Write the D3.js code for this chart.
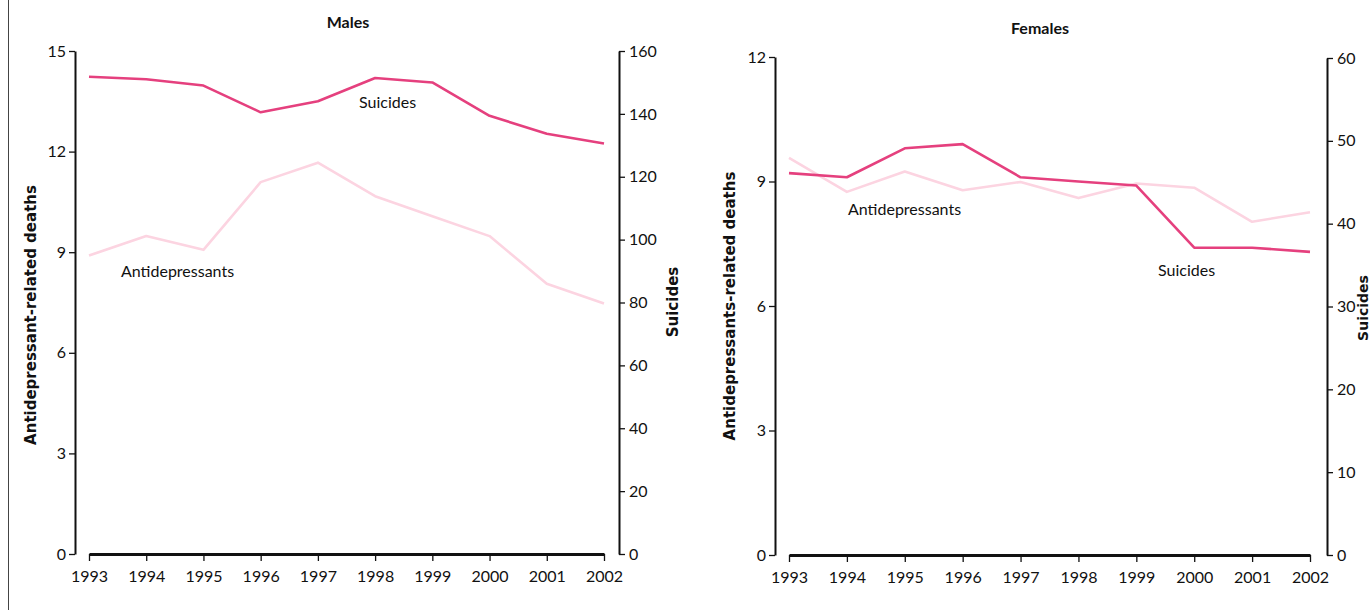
<!DOCTYPE html>
<html>
<head>
<meta charset="utf-8">
<script src="https://cdn.jsdelivr.net/npm/d3@7"></script>
<style>
  html, body { margin: 0; padding: 0; background: #fff; }
  svg { display: block; }
  .tick text { font-family: Lato, "Open Sans", sans-serif; font-size: 16px; fill: #111; }
  .axis path, .axis line { stroke: #111; }
</style>
</head>
<body>
<svg id="chart" width="1372" height="610"></svg>
<script>
// Years on the horizontal axis
const years = [1993, 1994, 1995, 1996, 1997, 1998, 1999, 2000, 2001, 2002];

// Males: antidepressant-related deaths (left axis) and suicides (right axis)
const maleAntidepressants = [8.9, 9.48, 9.07, 11.09, 11.67, 10.67, 10.07, 9.48, 8.06, 7.47];
const maleSuicides = [151.8, 151, 149, 140.5, 144, 151.4, 150, 139.4, 133.7, 130.6];

// Females: antidepressant-related deaths (left axis) and suicides (right axis)
const femaleAntidepressants = [9.57, 8.75, 9.24, 8.79, 8.99, 8.6, 8.95, 8.85, 8.03, 8.26];
const femaleSuicides = [46.1, 45.6, 49.1, 49.6, 45.6, 45.1, 44.6, 37.1, 37.1, 36.6];

// Axis tick values
const maleLeftTicks = [0, 3, 6, 9, 12, 15];
const maleRightTicks = [0, 20, 40, 60, 80, 100, 120, 140, 160];
const femaleLeftTicks = [0, 3, 6, 9, 12];
const femaleRightTicks = [0, 10, 20, 30, 40, 50, 60];

const suicideColor = "#e5407e";
const antiColor = "#fcd4e1";
const labelFont = 'Lato, "Open Sans", sans-serif';
const titleFont = '"DejaVu Sans", sans-serif';

const svg = d3.select("#chart");

// thin frame line on the left edge
svg.append("line")
  .attr("x1", 8.5).attr("x2", 8.5).attr("y1", 0).attr("y2", 610)
  .attr("stroke", "#444").attr("stroke-width", 1);

function panel(cfg) {
  const g = svg.append("g");
  const x = d3.scaleLinear().domain([years[0], years[years.length - 1]]).range(cfg.xRange);
  const yL = d3.scaleLinear().domain(cfg.leftDomain).range(cfg.yRangeL);
  const yR = d3.scaleLinear().domain(cfg.rightDomain).range(cfg.yRangeR);

  // left axis
  const aL = g.append("g").attr("class", "axis")
    .attr("transform", `translate(${cfg.leftX},0)`)
    .call(d3.axisLeft(yL).tickValues(cfg.leftTicks).tickSize(6).tickSizeOuter(0).tickPadding(3).tickFormat(d3.format("d")));
  aL.select(".domain").attr("stroke-width", 2);
  aL.selectAll(".tick line").attr("stroke-width", 1.3);

  // right axis
  const aR = g.append("g").attr("class", "axis")
    .attr("transform", `translate(${cfg.rightX},0)`)
    .call(d3.axisRight(yR).tickValues(cfg.rightTicks).tickSize(6).tickSizeOuter(0).tickPadding(4).tickFormat(d3.format("d")));
  aR.select(".domain").attr("stroke-width", 2);
  aR.selectAll(".tick line").attr("stroke-width", 1.3);

  // bottom axis
  const aB = g.append("g").attr("class", "axis")
    .attr("transform", `translate(0,${cfg.baseY})`)
    .call(d3.axisBottom(x).tickValues(years).tickSize(7).tickSizeOuter(0).tickPadding(10).tickFormat(d3.format("d")));
  aB.select(".domain").attr("stroke-width", 3);
  aB.selectAll(".tick line").attr("stroke-width", 1.3);

  // lines
  const lineL = d3.line().x((d, i) => x(years[i])).y(d => yL(d));
  const lineR = d3.line().x((d, i) => x(years[i])).y(d => yR(d));
  g.append("path").datum(cfg.anti).attr("d", lineL)
    .attr("fill", "none").attr("stroke", antiColor).attr("stroke-width", 2.6).attr("stroke-linejoin", "round");
  g.append("path").datum(cfg.suicides).attr("d", lineR)
    .attr("fill", "none").attr("stroke", suicideColor).attr("stroke-width", 2.6).attr("stroke-linejoin", "round");

  // title
  g.append("text").attr("x", cfg.titleX).attr("y", cfg.titleY)
    .attr("text-anchor", "middle").attr("font-family", labelFont)
    .attr("font-weight", "bold").attr("font-size", 16).attr("fill", "#111")
    .text(cfg.title);

  // axis titles
  g.append("text")
    .attr("transform", `translate(${cfg.leftTitleX},${cfg.leftTitleY}) rotate(-90)`)
    .attr("text-anchor", "middle").attr("font-family", titleFont)
    .attr("font-weight", "bold").attr("font-size", 15).attr("fill", "#111")
    .text(cfg.leftTitle);
  g.append("text")
    .attr("transform", `translate(${cfg.rightTitleX},${cfg.rightTitleY}) rotate(-90)`)
    .attr("text-anchor", "middle").attr("font-family", titleFont)
    .attr("font-weight", "bold").attr("font-size", cfg.rightTitleSize).attr("fill", "#111")
    .text("Suicides");

  // series labels
  cfg.labels.forEach(l => {
    g.append("text").attr("x", l.x).attr("y", l.y)
      .attr("font-family", labelFont).attr("font-size", 16).attr("fill", "#111")
      .text(l.text);
  });
}

panel({
  title: "Males", titleX: 348, titleY: 28,
  xRange: [89, 604], leftX: 75, rightX: 619, baseY: 554,
  leftDomain: [0, 15], rightDomain: [0, 160],
  yRangeL: [554, 51], yRangeR: [554, 51],
  leftTicks: maleLeftTicks, rightTicks: maleRightTicks,
  anti: maleAntidepressants, suicides: maleSuicides,
  leftTitle: "Antidepressant-related deaths", leftTitleX: 36, leftTitleY: 315,
  rightTitleX: 678, rightTitleY: 302, rightTitleSize: 15,
  labels: [
    { text: "Suicides", x: 359, y: 108 },
    { text: "Antidepressants", x: 121, y: 277 }
  ]
});

panel({
  title: "Females", titleX: 1040, titleY: 34,
  xRange: [789, 1310], leftX: 775, rightX: 1327, baseY: 555,
  leftDomain: [0, 12], rightDomain: [0, 60],
  yRangeL: [555, 57], yRangeR: [555, 58],
  leftTicks: femaleLeftTicks, rightTicks: femaleRightTicks,
  anti: femaleAntidepressants, suicides: femaleSuicides,
  leftTitle: "Antidepressants-related deaths", leftTitleX: 735, leftTitleY: 306,
  rightTitleX: 1368, rightTitleY: 308, rightTitleSize: 14,
  labels: [
    { text: "Antidepressants", x: 848, y: 215 },
    { text: "Suicides", x: 1158, y: 276 }
  ]
});
</script>
</body>
</html>
